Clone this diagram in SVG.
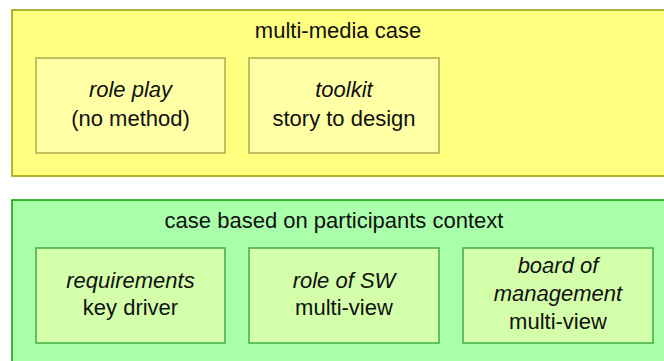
<svg xmlns="http://www.w3.org/2000/svg" width="664" height="361" viewBox="0 0 664 361">
<style>
text{font-family:"Liberation Sans",Arial,sans-serif;font-size:22px;fill:#111;text-anchor:middle}
.it{font-style:italic}
.oy{fill:#ffff80;stroke:#999900;stroke-width:1.5}
.iy{fill:#ffffa6;stroke:#b0aa50;stroke-width:1.5}
.og{fill:#aaffaa;stroke:#00a000;stroke-width:1.5}
.ig{fill:#d4ffaa;stroke:#44aa44;stroke-width:1.5}
</style>
<rect width="664" height="361" fill="#fff"/>
<g id="multi-media-case">
<rect class="oy" x="12" y="10" width="660" height="166"/>
<text x="338" y="38">multi-media case</text>
</g>
<g id="role-play">
<rect class="iy" x="36" y="58" width="189" height="95"/>
<text class="it" x="130.5" y="97">role play</text>
<text x="130.5" y="126">(no method)</text>
</g>
<g id="toolkit">
<rect class="iy" x="249" y="58" width="190" height="95"/>
<text class="it" x="344" y="97">toolkit</text>
<text x="344" y="126">story to design</text>
</g>
<g id="participants-case">
<rect class="og" x="12" y="200" width="660" height="170"/>
<text x="334" y="228">case based on participants context</text>
</g>
<g id="requirements">
<rect class="ig" x="36" y="248" width="189" height="95"/>
<text class="it" x="130.5" y="288">requirements</text>
<text x="130.5" y="315">key driver</text>
</g>
<g id="role-of-sw">
<rect class="ig" x="249" y="248" width="190" height="95"/>
<text class="it" x="344" y="288">role of SW</text>
<text x="344" y="315">multi-view</text>
</g>
<g id="board">
<rect class="ig" x="463" y="248" width="190" height="95"/>
<text class="it" x="558" y="273">board of</text>
<text class="it" x="558" y="301">management</text>
<text x="558" y="329">multi-view</text>
</g>
<g id="connectors"/>
</svg>
